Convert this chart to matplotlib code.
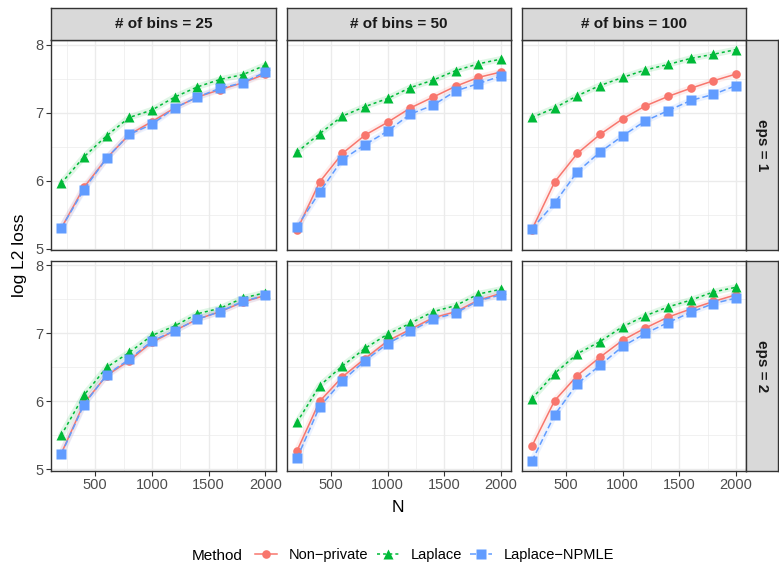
import matplotlib
matplotlib.use("Agg")
import matplotlib.pyplot as plt
from matplotlib.lines import Line2D
from matplotlib.ticker import FixedLocator

plt.rcParams['font.family'] = ['Liberation Sans', 'DejaVu Sans']

N = [200, 400, 600, 800, 1000, 1200, 1400, 1600, 1800, 2000]
bins_labels = ["# of bins = 25", "# of bins = 50", "# of bins = 100"]
eps_labels = ["eps = 1", "eps = 2"]
methods = ["Non\u2212private", "Laplace", "Laplace\u2212NPMLE"]

# eps = 1
nonpriv_e1_b25 = [5.30, 5.90, 6.33, 6.68, 6.87, 7.07, 7.23, 7.34, 7.44, 7.57]
laplace_e1_b25 = [5.96, 6.35, 6.66, 6.93, 7.04, 7.23, 7.38, 7.49, 7.56, 7.70]
npmle_e1_b25 = [5.30, 5.87, 6.33, 6.68, 6.83, 7.07, 7.23, 7.36, 7.44, 7.60]

nonpriv_e1_b50 = [5.27, 5.98, 6.40, 6.67, 6.86, 7.07, 7.23, 7.39, 7.52, 7.60]
laplace_e1_b50 = [6.42, 6.69, 6.95, 7.09, 7.21, 7.37, 7.48, 7.62, 7.72, 7.79]
npmle_e1_b50 = [5.32, 5.83, 6.31, 6.53, 6.73, 6.98, 7.11, 7.32, 7.43, 7.54]

nonpriv_e1_b100 = [5.28, 5.98, 6.40, 6.68, 6.91, 7.10, 7.24, 7.36, 7.47, 7.57]
laplace_e1_b100 = [6.93, 7.07, 7.25, 7.40, 7.52, 7.63, 7.71, 7.80, 7.86, 7.93]
npmle_e1_b100 = [5.29, 5.67, 6.13, 6.42, 6.66, 6.88, 7.03, 7.18, 7.27, 7.40]

# eps = 2
nonpriv_e2_b25 = [5.23, 5.97, 6.38, 6.60, 6.87, 7.04, 7.21, 7.32, 7.46, 7.56]
laplace_e2_b25 = [5.50, 6.09, 6.50, 6.72, 6.97, 7.11, 7.29, 7.37, 7.52, 7.60]
npmle_e2_b25 = [5.22, 5.95, 6.39, 6.62, 6.89, 7.04, 7.21, 7.32, 7.47, 7.56]

nonpriv_e2_b50 = [5.27, 6.00, 6.36, 6.63, 6.89, 7.06, 7.23, 7.32, 7.49, 7.59]
laplace_e2_b50 = [5.69, 6.23, 6.52, 6.78, 6.99, 7.15, 7.32, 7.41, 7.58, 7.65]
npmle_e2_b50 = [5.16, 5.92, 6.30, 6.60, 6.85, 7.03, 7.21, 7.30, 7.48, 7.57]

nonpriv_e2_b100 = [5.34, 6.01, 6.38, 6.65, 6.90, 7.08, 7.24, 7.36, 7.47, 7.57]
laplace_e2_b100 = [6.04, 6.41, 6.70, 6.88, 7.10, 7.26, 7.39, 7.49, 7.61, 7.68]
npmle_e2_b100 = [5.12, 5.80, 6.26, 6.53, 6.81, 7.00, 7.16, 7.31, 7.44, 7.52]

data = [
    [(nonpriv_e1_b25, laplace_e1_b25, npmle_e1_b25),
     (nonpriv_e1_b50, laplace_e1_b50, npmle_e1_b50),
     (nonpriv_e1_b100, laplace_e1_b100, npmle_e1_b100)],
    [(nonpriv_e2_b25, laplace_e2_b25, npmle_e2_b25),
     (nonpriv_e2_b50, laplace_e2_b50, npmle_e2_b50),
     (nonpriv_e2_b100, laplace_e2_b100, npmle_e2_b100)],
]

colors = ["#F8766D", "#00BA38", "#619CFF"]
markers = ["o", "^", "s"]
msizes = [6.2, 7.2, 6.8]
dashes = [None, (2, 2), (4, 2)]

W, H = 779, 567
fig = plt.figure(figsize=(W / 100, H / 100), dpi=100)

def fx(px):
    return px / W

def fy(py):
    return 1 - py / H

lefts = [51, 286.7, 521.7]
pw = 224.6
rows = [(40, 250), (260.7, 470.7)]

allv = [v for r in data for p in r for s in p for v in s]
lo, hi = min(allv), max(allv)
pad = 0.05 * (hi - lo)
ylim = (lo - pad, hi + pad)
xlim = (200 - 0.05 * 1800, 2000 + 0.05 * 1800)

edge = "#333333"
gridc = "#EBEBEB"

for r in range(2):
    top, bot = rows[r]
    for c in range(3):
        ax = fig.add_axes([fx(lefts[c]), fy(bot), pw / W, (bot - top) / H])
        ax.set_xlim(*xlim)
        ax.set_ylim(*ylim)
        ax.xaxis.set_major_locator(FixedLocator([500, 1000, 1500, 2000]))
        ax.xaxis.set_minor_locator(FixedLocator([250, 750, 1250, 1750]))
        ax.yaxis.set_major_locator(FixedLocator([5, 6, 7, 8]))
        ax.yaxis.set_minor_locator(FixedLocator([5.5, 6.5, 7.5]))
        ax.grid(which="major", color=gridc, lw=1.0, zorder=0)
        ax.grid(which="minor", color=gridc, lw=0.5, zorder=0)
        ax.set_axisbelow(True)
        for sp in ax.spines.values():
            sp.set_color(edge)
            sp.set_linewidth(1.0)
        ax.tick_params(which="minor", length=0)
        ax.tick_params(which="major", length=3.5, width=0.8, color=edge,
                       labelcolor="#4D4D4D", labelsize=10.5, pad=2)
        if c != 0:
            ax.tick_params(axis="y", which="major", length=0, labelleft=False)
        if r == 0:
            ax.tick_params(axis="x", which="major", length=0, labelbottom=False)
        for m in range(3):
            yv = data[r][c][m]
            ax.plot(N, yv, color=colors[m], lw=4.5, alpha=0.12,
                    solid_capstyle="round", zorder=2)
            ln, = ax.plot(N, yv, color=colors[m], lw=1.1, marker=markers[m],
                          ms=msizes[m], mec="none", zorder=3 + m)
            if dashes[m] is not None:
                ln.set_dashes(dashes[m])
        if r == 0:
            sax = fig.add_axes([fx(lefts[c]), fy(40), pw / W, 32 / H])
            sax.set_xticks([]); sax.set_yticks([])
            sax.set_facecolor("#D9D9D9")
            for sp in sax.spines.values():
                sp.set_color(edge); sp.set_linewidth(1.0)
            sax.text(0.5, 0.5, bins_labels[c], ha="center", va="center",
                     fontsize=11, fontweight="bold", color="#1A1A1A",
                     transform=sax.transAxes)
        if c == 2:
            rax = fig.add_axes([fx(746.3), fy(bot), 31.5 / W, (bot - top) / H])
            rax.set_xticks([]); rax.set_yticks([])
            rax.set_facecolor("#D9D9D9")
            for sp in rax.spines.values():
                sp.set_color(edge); sp.set_linewidth(1.0)
            rax.text(0.5, 0.5, eps_labels[r], ha="center", va="center",
                     fontsize=11, fontweight="bold", color="#1A1A1A",
                     rotation=-90, transform=rax.transAxes)

fig.text(fx(20), fy(255.5), "log L2 loss", rotation=90, ha="center", va="center",
         fontsize=12.5, color="black")
fig.text(fx(398), fy(508), "N", ha="center", va="center", fontsize=12.5,
         color="black")

fig.text(fx(192), fy(555.5), "Method", ha="left", va="center", fontsize=11,
         color="black")
handles = []
for m in range(3):
    h = Line2D([0], [0], color=colors[m], lw=1.1, marker=markers[m],
               ms=msizes[m], mec="none")
    if dashes[m] is not None:
        h.set_dashes(dashes[m])
    handles.append(h)
leg = fig.legend(handles, methods, loc="center left",
                 bbox_to_anchor=(fx(255), fy(555.5)), ncol=3, frameon=False,
                 fontsize=10.5, handlelength=1.5, handletextpad=0.8,
                 columnspacing=0.6, borderaxespad=0, borderpad=0)

fig.savefig("out.png", dpi=100)
